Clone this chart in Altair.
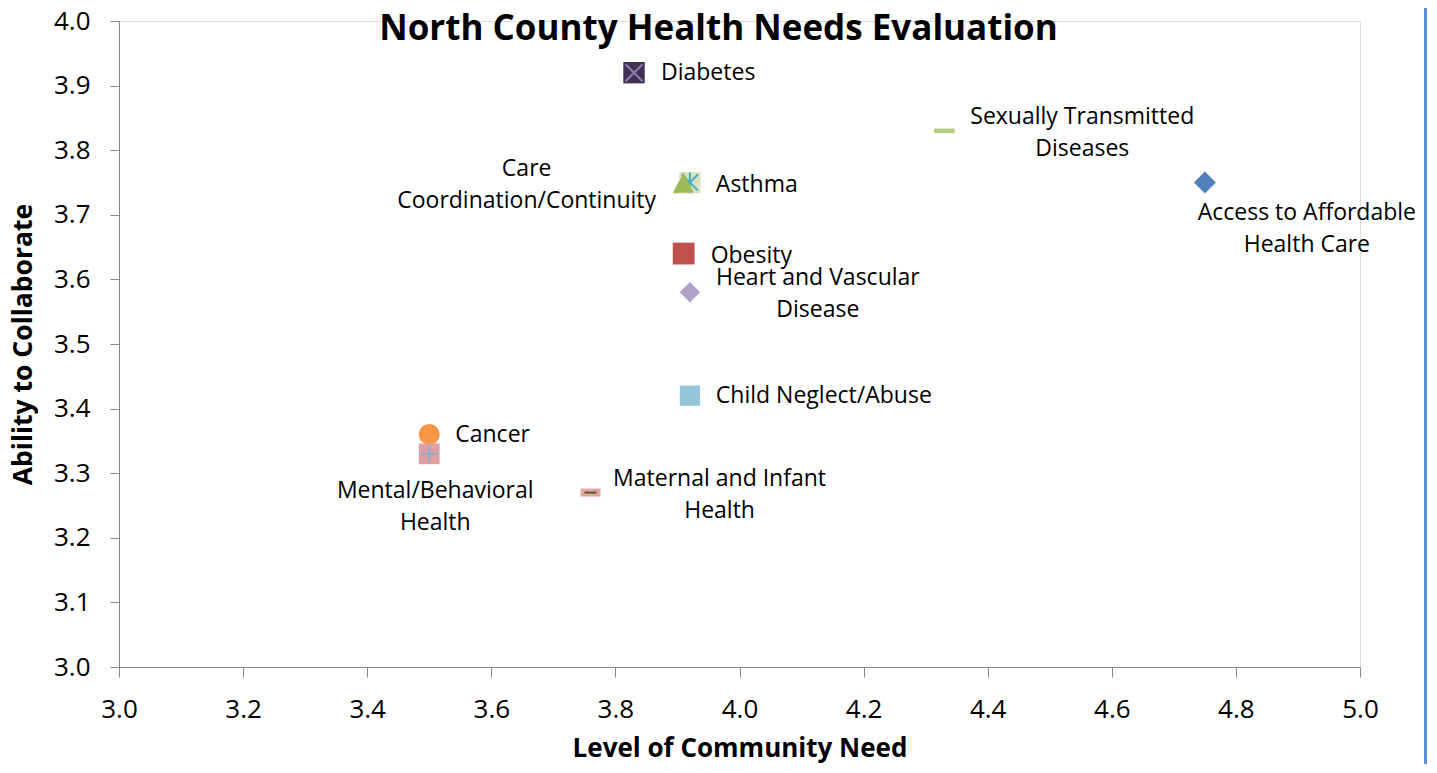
import altair as alt
import pandas as pd

# ---- data ----
names = [
    "Access to Affordable Health Care",
    "Obesity",
    "Care Coordination/Continuity",
    "Diabetes",
    "Asthma",
    "Cancer",
    "Mental/Behavioral Health",
    "Sexually Transmitted Diseases",
    "Heart and Vascular Disease",
    "Child Neglect/Abuse",
    "Maternal and Infant Health",
]
need = [4.75, 3.91, 3.91, 3.83, 3.92, 3.50, 3.50, 4.33, 3.92, 3.92, 3.76]
collab = [3.75, 3.64, 3.75, 3.92, 3.75, 3.36, 3.33, 3.83, 3.58, 3.42, 3.27]
label_text = [
    "Access to Affordable\nHealth Care",
    "Obesity",
    "Care\nCoordination/Continuity",
    "Diabetes",
    "Asthma",
    "Cancer",
    "Mental/Behavioral\nHealth",
    "Sexually Transmitted\nDiseases",
    "Heart and Vascular\nDisease",
    "Child Neglect/Abuse",
    "Maternal and Infant\nHealth",
]
x_ticks = [3.0, 3.2, 3.4, 3.6, 3.8, 4.0, 4.2, 4.4, 4.6, 4.8, 5.0]
y_ticks = [3.0, 3.1, 3.2, 3.3, 3.4, 3.5, 3.6, 3.7, 3.8, 3.9, 4.0]

df = pd.DataFrame({"name": names, "need": need, "collab": collab, "label": label_text})

# ---- marker styles (Excel-like) ----
SQ = "M-1,-1H1V1H-1Z"
DIA = "M0,-1L1,0L0,1L-1,0Z"
TRI = "M0,-1L1,1L-1,1Z"
CIRC = "circle"
DASH = "M-1,-0.22H1V0.22H-1Z"
SMALLDASH = "M-1,-0.4H1V0.4H-1Z"
marker_style = {
    "Access to Affordable Health Care": (DIA, "#4F81BD", 484),
    "Obesity": (SQ, "#C0504D", 400),
    "Care Coordination/Continuity": (TRI, "#9BBB59", 400),
    "Diabetes": (SQ, "#403152", 400),
    "Asthma": (SQ, "#D7E4BD", 400),
    "Cancer": (CIRC, "#F79646", 420),
    "Mental/Behavioral Health": (SQ, "#E0A0A2", 400),
    "Sexually Transmitted Diseases": (DASH, "#B3CC82", 441),
    "Heart and Vascular Disease": (DIA, "#B3A2C7", 420),
    "Child Neglect/Abuse": (SQ, "#93C6DB", 400),
    "Maternal and Infant Health": (SMALLDASH, "#E6A3A1", 169),
}
overlay_style = {
    "Diabetes": ("M-0.85,-0.85L0.85,0.85M-0.85,0.85L0.85,-0.85", "#8E7CB0", 400),
    "Asthma": ("M-0.8,-0.8L0.8,0.8M-0.8,0.8L0.8,-0.8M0,-1L0,1", "#4BACC6", 400),
    "Mental/Behavioral Health": ("M-0.8,0H0.8M0,-0.8V0.8", "#8EA9CE", 400),
    "Maternal and Infant Health": ("M-0.6,0H0.6", "#4F6228", 169),
}

# label placement: (align, dx, dy) in pixels relative to the marker
label_place = {
    "Access to Affordable Health Care": ("center", 102, 30),
    "Obesity": ("left", 27, 2),
    "Care Coordination/Continuity": ("center", -157, -14),
    "Diabetes": ("left", 27, 0),
    "Asthma": ("left", 26, 2),
    "Cancer": ("left", 26, 1),
    "Mental/Behavioral Health": ("center", 6, 37),
    "Sexually Transmitted Diseases": ("center", 138, -14),
    "Heart and Vascular Disease": ("center", 128, -14),
    "Child Neglect/Abuse": ("left", 26, 0),
    "Maternal and Infant Health": ("center", 129, -14),
}

FONT = "Open Sans"

x_enc = alt.X(
    "need:Q",
    scale=alt.Scale(domain=[3.0, 5.0], nice=False, zero=False),
    axis=alt.Axis(
        title="Level of Community  Need",
        values=x_ticks,
        format=".1f",
        grid=False,
        domainColor="#868686",
        tickColor="#868686",
        tickSize=10,
        labelFont=FONT,
        labelFontSize=26,
        labelColor="#000000",
        labelPadding=19,
        titleFont=FONT,
        titleFontSize=26,
        titleFontWeight="bold",
        titleColor="#000000",
        titlePadding=13,
        labelFlush=False,
    ),
)
y_enc = alt.Y(
    "collab:Q",
    scale=alt.Scale(domain=[3.0, 4.0], nice=False, zero=False),
    axis=alt.Axis(
        title="Ability to Collaborate",
        values=y_ticks,
        format=".1f",
        grid=False,
        domainColor="#868686",
        tickColor="#868686",
        tickSize=9,
        labelFont=FONT,
        labelFontSize=26,
        labelColor="#000000",
        labelPadding=20,
        titleFont=FONT,
        titleFontSize=26.5,
        titleFontWeight="bold",
        titleColor="#000000",
        titlePadding=16,
        labelFlush=False,
    ),
)

base = alt.Chart(df)

markers = base.mark_point(filled=True, opacity=1, strokeWidth=0).encode(
    x=x_enc,
    y=y_enc,
    shape=alt.Shape("name:N", scale=alt.Scale(domain=names, range=[marker_style[n][0] for n in names]), legend=None),
    color=alt.Color("name:N", scale=alt.Scale(domain=names, range=[marker_style[n][1] for n in names]), legend=None),
    size=alt.Size("name:N", scale=alt.Scale(domain=names, range=[marker_style[n][2] for n in names]), legend=None),
)

ov_names = list(overlay_style.keys())
overlay = base.transform_filter(
    alt.FieldOneOfPredicate(field="name", oneOf=ov_names)
).mark_point(filled=False, opacity=1, strokeWidth=2).encode(
    x="need:Q",
    y="collab:Q",
    shape=alt.Shape("name:N", scale=alt.Scale(domain=ov_names, range=[overlay_style[n][0] for n in ov_names]), legend=None),
    stroke=alt.Stroke("name:N", scale=alt.Scale(domain=ov_names, range=[overlay_style[n][1] for n in ov_names]), legend=None),
    size=alt.Size("name:N", scale=alt.Scale(domain=ov_names, range=[overlay_style[n][2] for n in ov_names]), legend=None),
)

# triangle on top of the asthma marker
tri_top = base.transform_filter(alt.datum.name == "Care Coordination/Continuity").mark_point(
    filled=True, opacity=1, strokeWidth=0, shape=TRI, size=400, color="#9BBB59"
).encode(x="need:Q", y="collab:Q")

label_layers = []
for n in names:
    align, dx, dy = label_place[n]
    label_layers.append(
        base.transform_filter(alt.datum.name == n)
        .mark_text(
            align=align, baseline="middle", dx=dx, dy=dy, font=FONT, fontSize=23,
            color="#000000", lineBreak="\n", lineHeight=32,
        )
        .encode(x="need:Q", y="collab:Q", text="label:N")
    )

border = alt.Chart(df).mark_rule(color="#5B8FD8", strokeWidth=3).encode(
    x=alt.value(1307), y=alt.value(-25), y2=alt.value(760)
)

chart = alt.layer(markers, overlay, tri_top, *label_layers, border).resolve_scale(
    shape="independent", size="independent", color="independent", stroke="independent"
).properties(
    width=1241,
    height=646,
    title=alt.TitleParams(
        "North County Health Needs Evaluation",
        font=FONT,
        fontSize=35,
        fontWeight="bold",
        color="#000000",
        anchor="middle",
        frame="group",
        baseline="alphabetic",
        offset=0,
        dx=-21,
        dy=80,
    ),
    autosize=alt.AutoSizeParams(type="none"),
    padding={"left": 111, "top": 13, "right": 67, "bottom": 97},
).configure_view(stroke=None).configure(background="#FFFFFF")

chart.save("out.html", embed_options={"renderer": "svg", "actions": False})
